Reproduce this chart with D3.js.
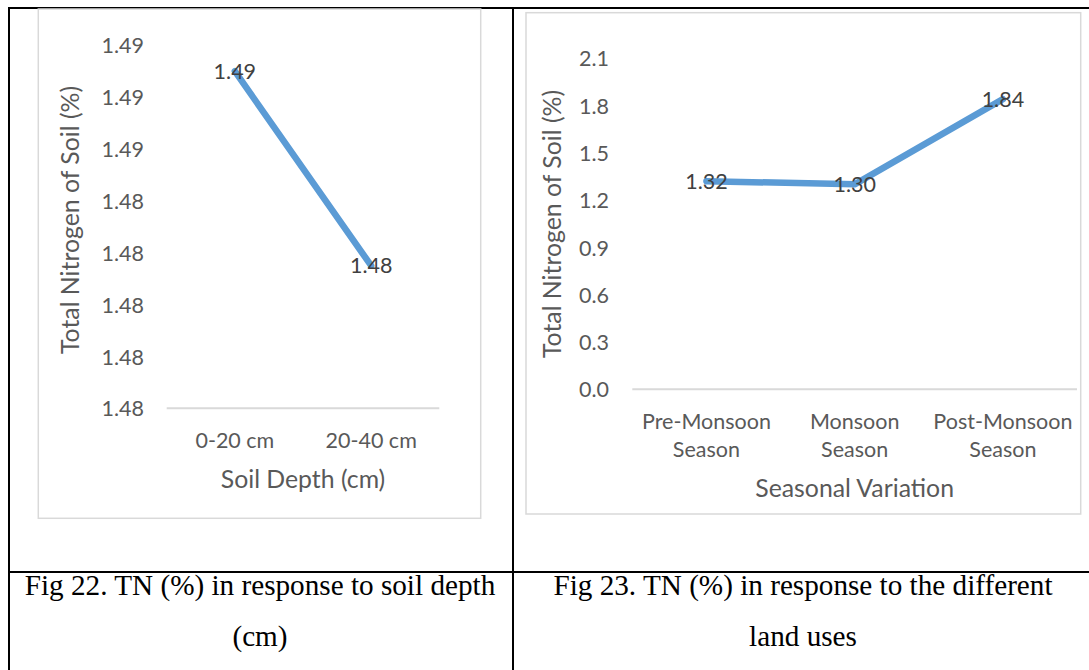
<!DOCTYPE html>
<html>
<head>
<meta charset="utf-8">
<script src="https://cdn.jsdelivr.net/npm/d3@7"></script>
<style>
  body { margin: 0; background: #fff; }
  svg { display: block; }
  .tick text { font-family: Lato, "Open Sans", sans-serif; fill: #595959; }
</style>
</head>
<body>
<svg id="fig" width="1089" height="670"></svg>
<script>
// Fig 22: total nitrogen by soil depth
const depthCategories = ["0-20 cm", "20-40 cm"];
const depthValues = [1.489, 1.4815];
const depthTicks = [1.476, 1.478, 1.480, 1.482, 1.484, 1.486, 1.488, 1.490];

// Fig 23: total nitrogen by season
const seasonCategories = ["Pre-Monsoon Season", "Monsoon Season", "Post-Monsoon Season"];
const seasonValues = [1.32, 1.30, 1.84];
const seasonTicks = [0, 0.3, 0.6, 0.9, 1.2, 1.5, 1.8, 2.1];

const yTitle = "Total Nitrogen of Soil (%)";
const depthTitle = "Soil Depth (cm)";
const seasonTitle = "Seasonal Variation";

const captionLeft = ["Fig 22. TN (%) in response to soil depth", "(cm)"];
const captionRight = ["Fig 23. TN (%) in response to the different", "land uses"];

const svg = d3.select("#fig");
const LINE = "#5b9bd5";
const TICK_FS = 21.5, TITLE_FS = 24.8;
const FONT = "Lato, 'Open Sans', sans-serif";

// table rules
const rules = [
  [8, 8, 1089, 8],      // top
  [9, 7, 9, 670],       // left
  [513, 7, 513, 670],   // middle
  [8, 572, 1089, 572]   // caption separator
];
svg.append("g").selectAll("line").data(rules).join("line")
  .attr("x1", d => d[0]).attr("y1", d => d[1])
  .attr("x2", d => d[2]).attr("y2", d => d[3])
  .attr("stroke", "#000").attr("stroke-width", 2);

function drawChart(o) {
  const g = svg.append("g");

  // chart area border
  g.append("rect")
    .attr("x", o.frame[0]).attr("y", o.frame[1])
    .attr("width", o.frame[2] - o.frame[0]).attr("height", o.frame[3] - o.frame[1])
    .attr("fill", "#fff").attr("stroke", "#d9d9d9").attr("stroke-width", 1.5);

  const x = d3.scaleBand().domain(o.categories).range([o.x0, o.x1]);
  const y = d3.scaleLinear().domain(o.domain).range([o.y1, o.y0]);
  const cx = d => x(d) + x.bandwidth() / 2;

  // value axis labels
  const ya = g.append("g").attr("transform", `translate(${o.x0},0)`)
    .call(d3.axisLeft(y).tickValues(o.ticks).tickFormat(d3.format(o.fmt))
      .tickSize(0).tickPadding(o.x0 - o.tickRight));
  ya.select(".domain").remove();
  ya.selectAll("text").attr("dy", null).attr("y", 7.6)
    .style("font-size", TICK_FS + "px");

  // baseline
  g.append("line")
    .attr("x1", o.x0).attr("x2", o.x1)
    .attr("y1", y(o.domain[0])).attr("y2", y(o.domain[0]))
    .attr("stroke", "#d9d9d9").attr("stroke-width", 2);

  // category labels
  const xa = g.append("g").attr("transform", `translate(0,${o.y1})`)
    .call(d3.axisBottom(x).tickSize(0));
  xa.select(".domain").remove();
  xa.selectAll("text").attr("dy", null).attr("y", null)
    .style("font-size", TICK_FS + "px")
    .text(null)
    .each(function(d) {
      const lines = o.wrap ? d.split(" ") : [d];
      const t = d3.select(this);
      lines.forEach((s, i) => {
        t.append("tspan").attr("x", 0)
          .attr("y", o.labelBase[i] - o.y1)
          .text(s);
      });
    });

  // axis titles
  g.append("text")
    .attr("x", (o.x0 + o.x1) / 2).attr("y", o.xTitleBase)
    .attr("text-anchor", "middle")
    .style("font-family", FONT).style("font-size", TITLE_FS + "px")
    .attr("fill", "#595959").text(o.xTitle);
  g.append("text")
    .attr("transform", `translate(${o.yTitleX},${o.yTitleY}) rotate(-90)`)
    .attr("text-anchor", "middle")
    .style("font-family", FONT).style("font-size", TITLE_FS + "px")
    .attr("fill", "#595959").text(yTitle);

  // series line
  const pts = o.categories.map((c, i) => [cx(c), y(o.values[i])]);
  g.append("path")
    .attr("d", d3.line()(pts))
    .attr("fill", "none").attr("stroke", LINE)
    .attr("stroke-width", 6.5).attr("stroke-linecap", "round")
    .attr("stroke-linejoin", "round");

  // data labels, centred on each point
  g.append("g").selectAll("text").data(o.values).join("text")
    .attr("x", (d, i) => cx(o.categories[i]))
    .attr("y", d => y(d) + 7.6)
    .attr("text-anchor", "middle")
    .style("font-family", FONT).style("font-size", TICK_FS + "px")
    .attr("fill", "#404040")
    .text(d => d3.format(".2f")(d));
}

drawChart({
  frame: [38.3, 9, 480.7, 518.3],
  categories: depthCategories, values: depthValues,
  domain: [1.476, 1.490], ticks: depthTicks, fmt: ".2f",
  x0: 166.7, x1: 439.3, y0: 45.3, y1: 408.3, tickRight: 144,
  wrap: false, labelBase: [447.7],
  xTitle: depthTitle, xTitleBase: 487.5,
  yTitleX: 78.5, yTitleY: 220
});

drawChart({
  frame: [526, 12.7, 1080.7, 514],
  categories: seasonCategories, values: seasonValues,
  domain: [0, 2.1], ticks: seasonTicks, fmt: ".1f",
  x0: 632.3, x1: 1077, y0: 58.2, y1: 389.3, tickRight: 609,
  wrap: true, labelBase: [429.3, 457.3],
  xTitle: seasonTitle, xTitleBase: 496.8,
  yTitleX: 561, yTitleY: 224
});

// figure captions
const cap = svg.append("g")
  .style("font-family", "'Liberation Serif', 'Times New Roman', serif")
  .style("font-size", "29.2px").attr("fill", "#000").attr("text-anchor", "middle");
[[260, captionLeft], [803, captionRight]].forEach(([cxp, lines]) => {
  lines.forEach((s, i) => {
    cap.append("text").attr("x", cxp).attr("y", 594.5 + i * 51).text(s);
  });
});
</script>
</body>
</html>
